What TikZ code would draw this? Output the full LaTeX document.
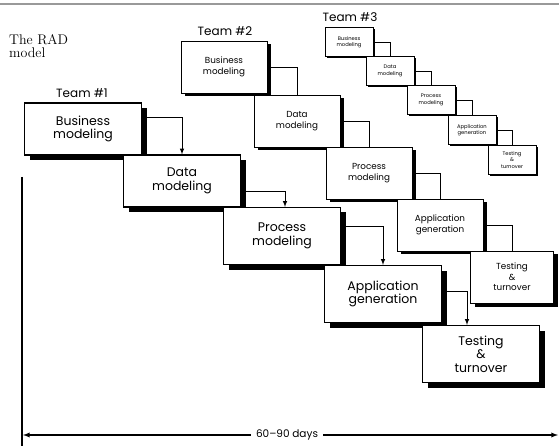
\documentclass[tikz,border=0pt]{standalone}
\usepackage{fontspec}
\newfontfamily\geofont{Poppins}
\usetikzlibrary{arrows,shadows}
\tikzset{
	stage/.style={draw, fill=white, align=center, inner sep=0pt},
	bigstage/.style={stage, line width=1.1pt, minimum width=117pt, minimum height=57pt,
			font={\geofont\fontsize{12.5}{13.5}\selectfont},
			general shadow={fill=black, shadow xshift=5pt, shadow yshift=-5pt}},
	midstage/.style={stage, line width=0.9pt, minimum width=86pt, minimum height=52pt,
			font={\geofont\fontsize{8.8}{10.5}\selectfont},
			general shadow={fill=black, shadow xshift=4pt, shadow yshift=-3.5pt}},
	smallstage/.style={stage, line width=0.7pt, minimum width=48pt, minimum height=29pt,
			font={\geofont\fontsize{5.2}{6.4}\selectfont},
			general shadow={fill=black, shadow xshift=1.8pt, shadow yshift=-1.8pt}},
	flow/.style={line width=1pt, -latex},
	link/.style={line width=0.9pt},
	thinlink/.style={line width=0.7pt},
	teamlabel/.style={font={\geofont\fontsize{12}{13}\selectfont}}
}
\begin{document}
\begin{tikzpicture}[x=1pt, y=-1pt]
	\useasboundingbox (0,0) rectangle (559,446);
	\draw[black!40, line width=1.5pt] (0,4) -- (559,4);
	\node[align=left, anchor=north west, inner sep=0pt, font={\fontsize{14}{13}\selectfont}] (title) at (9,34) {The RAD\\model};

	\node[teamlabel] (team1) at (82,93) {Team \#1};
	\node[teamlabel] (team2) at (225,31) {Team \#2};
	\node[teamlabel] (team3) at (350,17) {Team \#3};

	\node[bigstage, minimum height=52pt] (b1) at (83,129) {Business\\modeling};
	\node[bigstage, minimum height=52pt] (d1) at (182,181) {Data\\modeling};
	\node[bigstage] (p1) at (282,236) {Process\\modeling};
	\node[bigstage] (a1) at (383,294) {Application\\generation};
	\node[bigstage] (t1) at (481,354) {Testing\\\&\\turnover};

	\node[midstage] (b2) at (224,67) {Business\\modeling};
	\node[midstage] (d2) at (297,121) {Data\\modeling};
	\node[midstage] (p2) at (369,173) {Process\\modeling};
	\node[midstage] (a2) at (440,225) {Application\\generation};
	\node[midstage, minimum width=83pt] (t2) at (512,277) {Testing\\\&\\turnover};

	\node[smallstage] (b3) at (349,42) {Business\\modeling};
	\node[smallstage] (d3) at (390,71) {Data\\modeling};
	\node[smallstage] (p3) at (431,100) {Process\\modeling};
	\node[smallstage] (a3) at (472,130) {Application\\generation};
	\node[smallstage] (t3) at (512,160) {Testing\\\&\\turnover};

	\draw[flow] ([yshift=-15pt]b1.north east) -| (d1.north);
	\draw[flow] ([yshift=-37pt]d1.north east) -| ([xshift=3pt]p1.north);
	\draw[flow] ([yshift=-20pt]p1.north east) -| (a1.north);
	\draw[flow] ([yshift=-27pt]a1.north east) -| ([xshift=-14pt]t1.north);

	\draw[link] (b2.east) -| (d2.north);
	\draw[link] (d2.east) -| (p2.north);
	\draw[link] (p2.east) -| (a2.north);
	\draw[link] (a2.east) -| (t2.north);

	\draw[thinlink] (b3.east) -| (d3.north);
	\draw[thinlink] (d3.east) -| (p3.north);
	\draw[thinlink] (p3.east) -| (a3.north);
	\draw[thinlink] (a3.east) -| (t3.north);

	\coordinate (axtop) at (22,177);
	\coordinate (axbot) at (22,446);
	\draw[line width=1.3pt] (axtop) -- (axbot);
	\node[font={\geofont\fontsize{10.5}{12}\selectfont}, inner sep=5pt] (span) at (287,435) {60\textendash 90 days};
	\coordinate (spanleft) at (23,435);
	\coordinate (spanright) at (558,435);
	\draw[line width=1.3pt, -latex] (span) -- (spanleft);
	\draw[line width=1.3pt, -latex] (span) -- (spanright);
\end{tikzpicture}
\end{document}
